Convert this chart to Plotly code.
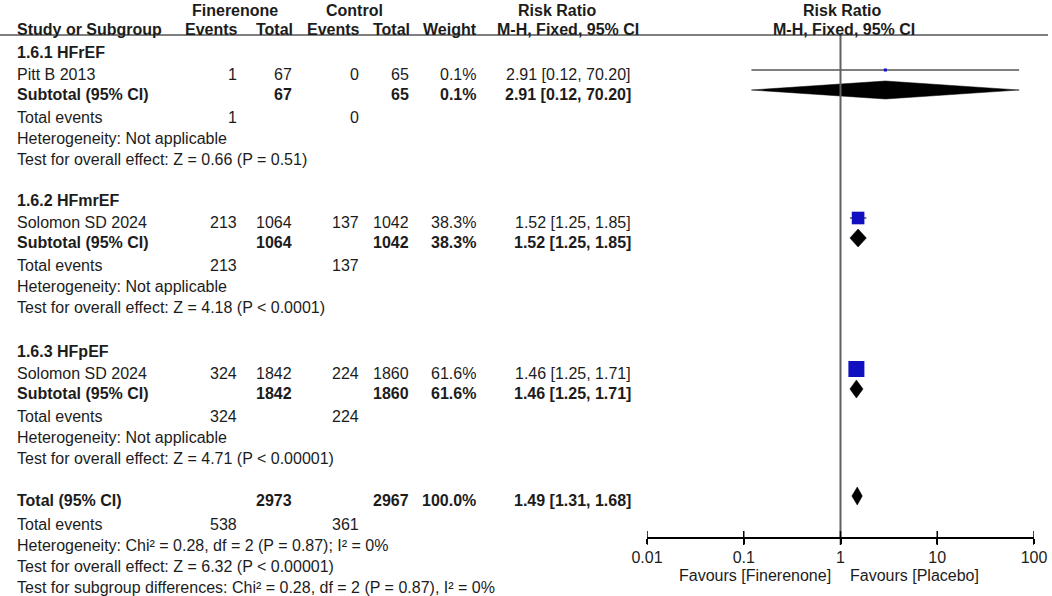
import numpy as np
import plotly.graph_objects as go

# data
groups = ["1.6.1 HFrEF", "1.6.2 HFmrEF", "1.6.3 HFpEF"]
studies = ["Pitt B 2013", "Solomon SD 2024", "Solomon SD 2024"]
fin_events = [1, 213, 324]
fin_total = [67, 1064, 1842]
ctl_events = [0, 137, 224]
ctl_total = [65, 1042, 1860]
weights = [0.1, 38.3, 61.6]
rr = [2.91, 1.52, 1.46]
rr_low = [0.12, 1.25, 1.25]
rr_high = [70.20, 1.85, 1.71]
# one study per subgroup, so the subtotals equal the study values
sub_rr = [2.91, 1.52, 1.46]
sub_low = [0.12, 1.25, 1.25]
sub_high = [70.20, 1.85, 1.71]
het_text = ["Heterogeneity: Not applicable"] * 3
effect_text = ["Test for overall effect: Z = 0.66 (P = 0.51)",
               "Test for overall effect: Z = 4.18 (P < 0.0001)",
               "Test for overall effect: Z = 4.71 (P < 0.00001)"]

total_fin = 2973
total_ctl = 2967
total_events_fin = 538
total_events_ctl = 361
total_weight = 100.0
total_rr = 1.49
total_low = 1.31
total_high = 1.68
total_notes = ["Heterogeneity: Chi² = 0.28, df = 2 (P = 0.87); I² = 0%",
               "Test for overall effect: Z = 6.32 (P < 0.00001)",
               "Test for subgroup differences: Chi² = 0.28, df = 2 (P = 0.87), I² = 0%"]

tick_vals = [0.01, 0.1, 1, 10, 100]
tick_text = ["0.01", "0.1", "1", "10", "100"]

# layout (pixel units, y grows downwards)
W, H = 1052, 596
TXT = "#1c1c1c"
FONT = "Liberation Sans, Arial, sans-serif"
X_LABEL = 15
COL_X = [239, 294, 361, 411, 478, 633]
BLOCK_TOP = [52, 200, 351]
BLOCK_DY = [0, 22, 42, 65, 86, 107]
TOTAL_Y = [500, 524, 545, 566, 587]
AXIS_Y = 538
LINE_TOP = 35
MARK_DY = -4
DIAMOND_H = 9


def ci_str(m, lo, hi):
    return f"{m:.2f} [{lo:.2f}, {hi:.2f}]"


ann = []


def txt(x, y, s, align="left", bold=False):
    ann.append(dict(x=x, y=y, xref="x", yref="y",
                    text=f"<b>{s}</b>" if bold else s,
                    showarrow=False, xanchor=align, yanchor="middle",
                    font=dict(size=16, color=TXT, family=FONT)))


# headers
txt(235, 10, "Finerenone", "center", True)
txt(354, 10, "Control", "center", True)
txt(557, 10, "Risk Ratio", "center", True)
txt(842, 10, "Risk Ratio", "center", True)
txt(X_LABEL, 29, "Study or Subgroup", "left", True)
for x, s in zip([240, 295, 362, 412, 479, 641],
                ["Events", "Total", "Events", "Total", "Weight", "M-H, Fixed, 95% CI"]):
    txt(x, 29, s, "right", True)
txt(844, 29, "M-H, Fixed, 95% CI", "center", True)

fig = go.Figure()

for i in range(len(groups)):
    y0 = BLOCK_TOP[i]
    ys = [y0 + d for d in BLOCK_DY]
    txt(X_LABEL, ys[0], groups[i], bold=True)
    # study row
    txt(X_LABEL, ys[1], studies[i])
    for x, v in zip(COL_X, [fin_events[i], fin_total[i], ctl_events[i], ctl_total[i],
                            f"{weights[i]:.1f}%", ci_str(rr[i], rr_low[i], rr_high[i])]):
        txt(x, ys[1], str(v), "right")
    # subtotal row
    txt(X_LABEL, ys[2], "Subtotal (95% CI)", bold=True)
    for x, v in zip([COL_X[1], COL_X[3], COL_X[4], COL_X[5]],
                    [fin_total[i], ctl_total[i], f"{weights[i]:.1f}%",
                     ci_str(sub_rr[i], sub_low[i], sub_high[i])]):
        txt(x, ys[2], str(v), "right", True)
    txt(X_LABEL, ys[3], "Total events")
    txt(COL_X[0], ys[3], str(fin_events[i]), "right")
    txt(COL_X[2], ys[3], str(ctl_events[i]), "right")
    txt(X_LABEL, ys[4], het_text[i])
    txt(X_LABEL, ys[5], effect_text[i])

    # forest marks
    ym = ys[1] + MARK_DY
    fig.add_trace(go.Scatter(x=[rr_low[i], rr_high[i]], y=[ym, ym], mode="lines",
                             line=dict(color="black", width=1), xaxis="x2", yaxis="y"))
    fig.add_trace(go.Scatter(x=[rr[i]], y=[ym], mode="markers", xaxis="x2", yaxis="y",
                             marker=dict(symbol="square", color="#1010c0",
                                         size=max(3, 16 * np.sqrt(weights[i] / max(weights))),
                                         line=dict(width=0))))
    yd = ys[2] + MARK_DY
    fig.add_trace(go.Scatter(x=[sub_low[i], sub_rr[i], sub_high[i], sub_rr[i], sub_low[i]],
                             y=[yd, yd - DIAMOND_H, yd, yd + DIAMOND_H, yd],
                             mode="lines", fill="toself", fillcolor="black",
                             line=dict(color="black", width=0.5), xaxis="x2", yaxis="y"))

# overall rows
txt(X_LABEL, TOTAL_Y[0], "Total (95% CI)", bold=True)
for x, v in zip([COL_X[1], COL_X[3], COL_X[4], COL_X[5]],
                [total_fin, total_ctl, f"{total_weight:.1f}%", ci_str(total_rr, total_low, total_high)]):
    txt(x, TOTAL_Y[0], str(v), "right", True)
txt(X_LABEL, TOTAL_Y[1], "Total events")
txt(COL_X[0], TOTAL_Y[1], str(total_events_fin), "right")
txt(COL_X[2], TOTAL_Y[1], str(total_events_ctl), "right")
for y, s in zip(TOTAL_Y[2:], total_notes):
    txt(X_LABEL, y, s)

yt = TOTAL_Y[0] + MARK_DY
fig.add_trace(go.Scatter(x=[total_low, total_rr, total_high, total_rr, total_low],
                         y=[yt, yt - DIAMOND_H, yt, yt + DIAMOND_H, yt],
                         mode="lines", fill="toself", fillcolor="black",
                         line=dict(color="black", width=0.5), xaxis="x2", yaxis="y"))

# line of no effect
fig.add_trace(go.Scatter(x=[1, 1], y=[LINE_TOP, AXIS_Y], mode="lines",
                         line=dict(color="#606060", width=2), xaxis="x2", yaxis="y"))
# crossing tick marks
fig.add_trace(go.Scatter(x=tick_vals, y=[AXIS_Y] * len(tick_vals), mode="markers",
                         marker=dict(symbol="line-ns", size=10,
                                     line=dict(color="black", width=1.5)),
                         xaxis="x2", yaxis="y"))

txt(833, 575, "Favours [Finerenone]", "right")
txt(848, 575, "Favours [Placebo]", "left")

fig.update_layout(
    width=W, height=H, autosize=False,
    margin=dict(l=0, r=0, t=0, b=0, pad=0),
    paper_bgcolor="white", plot_bgcolor="rgba(0,0,0,0)",
    showlegend=False,
    hovermode=False,
    font=dict(family=FONT, size=16, color=TXT),
    xaxis=dict(range=[0, W], visible=False, domain=[0, 1], automargin=False),
    yaxis=dict(range=[H, 0], visible=False, domain=[0, 1], automargin=False),
    xaxis2=dict(type="log", range=[-2, 2], domain=[647 / W, 1034 / W],
                anchor="free", position=(H - AXIS_Y) / H, automargin=False,
                showline=True, linecolor="black", linewidth=1.5,
                tickvals=tick_vals, ticktext=tick_text,
                ticks="outside", ticklen=5, tickwidth=1.5, tickcolor="black",
                showgrid=False, zeroline=False,
                tickfont=dict(size=16, color=TXT, family=FONT)),
    annotations=ann,
    shapes=[dict(type="line", xref="x", yref="y", x0=0, x1=1048, y0=LINE_TOP, y1=LINE_TOP,
                 line=dict(color="black", width=1))],
)

fig.write_html("out.html",
               config={"displayModeBar": False, "responsive": False},
               post_script="document.body.style.margin='0';"
                           "document.body.style.overflow='hidden';"
                           "document.documentElement.style.overflow='hidden';")
